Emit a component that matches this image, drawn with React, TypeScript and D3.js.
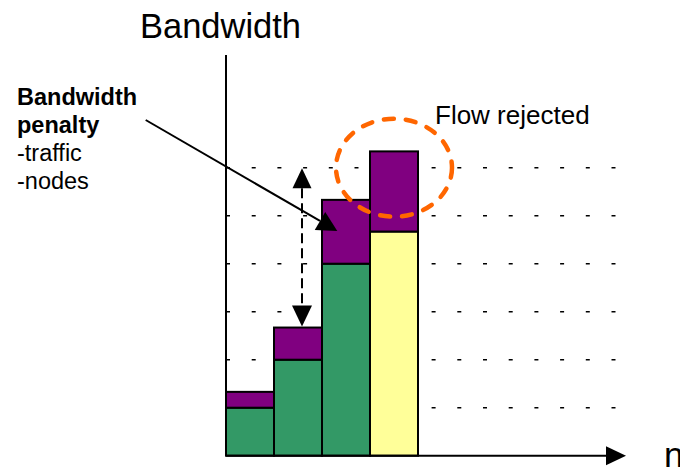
import React from "react";
import * as d3 from "d3";

const categories = ["flow 1", "flow 2", "flow 3", "flow 4"];
const baseValues = [1, 2, 4, 4.67];
const penaltyValues = [0.33, 0.67, 1.33, 1.67];
const rejected = [false, false, false, true];
const gridValues = [1, 2, 3, 4, 5, 6];
const penaltyLabel = ["Bandwidth", "penalty"];
const penaltyItems = ["-traffic", "-nodes"];

const W = 680;
const H = 471;
const X0 = 226;
const Y0 = 455.7;
const FONT = "'Liberation Sans', Arial, Helvetica, sans-serif";

const GREEN = "#339966";
const PURPLE = "#800080";
const YELLOW = "#FFFF99";
const ORANGE = "#FF6600";

function head(tx: number, ty: number, dx: number, dy: number, len: number, wid: number) {
  const n = Math.hypot(dx, dy);
  const ux = dx / n, uy = dy / n;
  const bx = tx - ux * len, by = ty - uy * len;
  const px = -uy * wid / 2, py = ux * wid / 2;
  return {
    points: `${tx},${ty} ${bx + px},${by + py} ${bx - px},${by - py}`,
    bx, by,
  };
}

export default function App() {
  const x = d3.scaleBand<string>().domain(categories).range([X0, X0 + 48 * categories.length]).paddingInner(0).paddingOuter(0);
  const y = d3.scaleLinear().domain([0, 6]).range([Y0, 167.7]);
  const yTop = y(8.35);

  const totals = baseValues.map((b, i) => b + penaltyValues[i]);

  // x axis arrow
  const xHead = head(626, Y0, 1, 0, 20, 19);

  // double arrow over bar 2
  const ax = (x(categories[1]) as number) + x.bandwidth() / 2 + 4;
  const aTop = head(ax, y(6) + 0.6, 0, -1, 20, 19);
  const aBot = head(ax, y(totals[1]) - 1, 0, 1, 21, 20);

  // leader line from label to bar 3 penalty
  const ls = { x: 145.7, y: 120 };
  const lt = { x: 337.3, y: 231 };
  const lHead = head(lt.x, lt.y, lt.x - ls.x, lt.y - ls.y, 20, 21);

  // rejected ellipse around bar 4 top
  const ex = (x(categories[3]) as number) + x.bandwidth() / 2;
  const ey = y(6);

  return (
    <svg width={W} height={H} style={{ position: "absolute", left: 0, top: 0, background: "#fff" }} fontFamily={FONT}>
      <rect x={0} y={0} width={W} height={H} fill="#fff" />
      {/* dotted grid */}
      {gridValues.map((g) => (
        <line key={g} x1={X0} x2={616} y1={y(g)} y2={y(g)} stroke="#000" strokeWidth={1.5} strokeDasharray="4 21.7" />
      ))}
      {/* bars */}
      {categories.map((c, i) => (
        <g key={c}>
          <rect x={x(c)} y={y(baseValues[i])} width={x.bandwidth()} height={Y0 - y(baseValues[i])}
            fill={rejected[i] ? YELLOW : GREEN} stroke="#000" strokeWidth={2} />
          <rect x={x(c)} y={y(totals[i])} width={x.bandwidth()} height={y(baseValues[i]) - y(totals[i])}
            fill={PURPLE} stroke="#000" strokeWidth={2} />
        </g>
      ))}
      {/* axes */}
      <line x1={X0} x2={X0} y1={yTop} y2={Y0} stroke="#000" strokeWidth={2} />
      <line x1={X0} x2={xHead.bx} y1={Y0} y2={Y0} stroke="#000" strokeWidth={2} />
      <polygon points={xHead.points} fill="#000" />
      <text x={220.5} y={37.7} fontSize={34.5} textAnchor="middle" fill="#000">Bandwidth</text>
      <text x={664} y={467} fontSize={35} fill="#000">n</text>

      {/* double arrow */}
      <line x1={ax} x2={ax} y1={aTop.by} y2={aBot.by} stroke="#000" strokeWidth={2} strokeDasharray="10 5" />
      <polygon points={aTop.points} fill="#000" />
      <polygon points={aBot.points} fill="#000" />

      {/* leader line */}
      <line x1={ls.x} y1={ls.y} x2={lHead.bx} y2={lHead.by} stroke="#000" strokeWidth={2} />
      <polygon points={lHead.points} fill="#000" />

      {/* penalty label */}
      {penaltyLabel.map((t, i) => (
        <text key={t} x={17} y={105 + i * 28} fontSize={23.5} fontWeight="bold" fill="#000">{t}</text>
      ))}
      {penaltyItems.map((t, i) => (
        <text key={t} x={17} y={161 + i * 28} fontSize={23.5} fill="#000">{t}</text>
      ))}

      {/* rejected */}
      <ellipse cx={ex} cy={ey} rx={58} ry={49} fill="none" stroke={ORANGE} strokeWidth={4.5}
        strokeDasharray="10 12" strokeLinecap="round" />
      <text x={435} y={124.3} fontSize={26} fill="#000">Flow rejected</text>
    </svg>
  );
}
